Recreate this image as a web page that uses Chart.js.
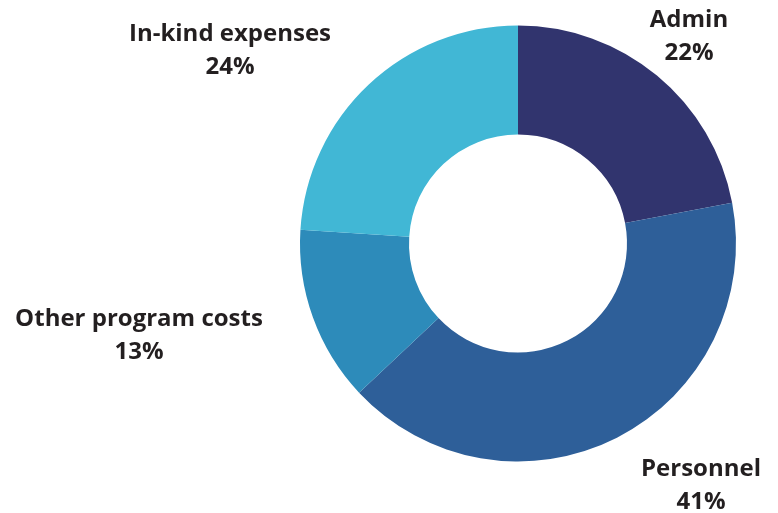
<!DOCTYPE html>
<html>
<head>
<meta charset="utf-8">
<script src="https://cdn.jsdelivr.net/npm/chart.js@4"></script>
<style>
  html, body { margin: 0; padding: 0; background: #fff; }
  #wrap { width: 778px; height: 513px; }
</style>
</head>
<body>
<div id="wrap"><canvas id="chart" width="778" height="513"></canvas></div>
<script>
// chart data
const categories = ['Admin', 'Personnel', 'Other program costs', 'In-kind expenses'];
const shares = [22, 41, 13, 24];
const sliceColors = ['#31346e', '#2e5f99', '#2d8bba', '#41b7d5'];

// label block centres, offset from the doughnut centre (px)
const labelOffsets = [[171, -207], [183, 242], [-379, 92], [-288, -193]];

const outsideLabels = {
  id: 'outsideLabels',
  afterDraw(chart) {
    const ctx = chart.ctx;
    const meta = chart.getDatasetMeta(0);
    ctx.save();
    ctx.fillStyle = '#231f20';
    ctx.font = 'bold 24px "Open Sans"';
    ctx.textAlign = 'center';
    ctx.textBaseline = 'middle';
    meta.data.forEach((arc, i) => {
      const x = arc.x + labelOffsets[i][0];
      const y = arc.y + labelOffsets[i][1];
      ctx.fillText(categories[i], x, y - 16.5);
      ctx.fillText(shares[i] + '%', x, y + 16.5);
    });
    ctx.restore();
  }
};

const ctx = document.getElementById('chart').getContext('2d');
new Chart(ctx, {
  type: 'doughnut',
  data: {
    labels: categories,
    datasets: [{
      data: shares,
      backgroundColor: sliceColors,
      borderWidth: 0,
      hoverOffset: 0
    }]
  },
  options: {
    responsive: false,
    animation: false,
    devicePixelRatio: 1,
    cutout: '50%',
    layout: {
      padding: { left: 300, right: 42, top: 25, bottom: 51 }
    },
    plugins: {
      legend: { display: false },
      tooltip: { enabled: false }
    }
  },
  plugins: [outsideLabels]
});
</script>
</body>
</html>
